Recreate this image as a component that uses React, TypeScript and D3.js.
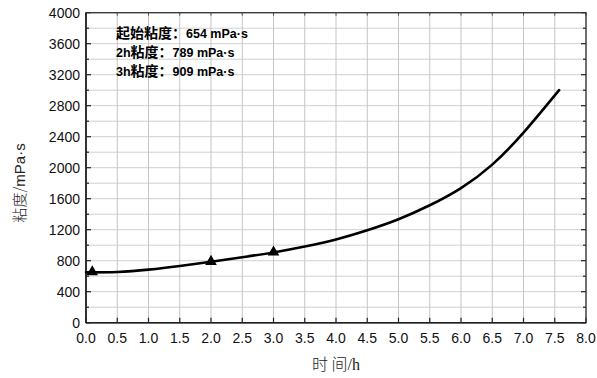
import React from "react";
import * as d3 from "d3";

const curveX = [0.0, 0.5, 1.0, 1.5, 2.0, 2.5, 3.0, 3.5, 4.0, 4.5, 5.0, 5.5, 6.0, 6.5, 7.0, 7.57];
const curveY = [650, 655, 685, 732, 787, 845, 907, 983, 1075, 1193, 1335, 1515, 1737, 2040, 2452, 3000];
const markX = [0.1, 2.0, 3.0];
const markY = [654, 789, 909];
const xTicks = [0, 0.5, 1, 1.5, 2, 2.5, 3, 3.5, 4, 4.5, 5, 5.5, 6, 6.5, 7, 7.5, 8];
const yTicks = [0, 400, 800, 1200, 1600, 2000, 2400, 2800, 3200, 3600, 4000];
const yGrid = d3.range(0, 4001, 200);
const noteLabels = ["起始粘度：", "2h粘度：", "3h粘度："];
const noteValues = ["654 mPa·s", "789 mPa·s", "909 mPa·s"];

export default function App() {
  const W = 597, H = 378;
  const x = d3.scaleLinear().domain([0, 8]).range([86, 586]);
  const y = d3.scaleLinear().domain([0, 4000]).range([322.7, 12.7]);
  const line = d3.line<number>().x((_, i) => x(curveX[i])).y((d) => y(d)).curve(d3.curveNatural);
  const tri = d3.symbol().type(d3.symbolTriangle).size(58)();
  const sans = "'Liberation Sans', Arial, sans-serif";
  const cjk = "'Noto Sans CJK SC', sans-serif";
  return (
    <svg width={W} height={H} style={{ position: "absolute", left: 0, top: 0, background: "#fff" }}>
      {yGrid.map((v) => (
        <line key={"gy" + v} x1={x(0)} x2={x(8)} y1={y(v)} y2={y(v)} stroke="#cfcfcf" strokeWidth={1} />
      ))}
      {xTicks.map((v) => (
        <line key={"gx" + v} x1={x(v)} x2={x(v)} y1={y(0)} y2={y(4000)} stroke="#c4c4c4" strokeWidth={1} />
      ))}
      {xTicks.map((v) => (
        <g key={"tx" + v}>
          <line x1={x(v)} x2={x(v)} y1={y(0)} y2={y(0) - 5} stroke="#222" strokeWidth={1.2} />
          <line x1={x(v)} x2={x(v)} y1={y(4000)} y2={y(4000) + 3} stroke="#555" strokeWidth={1} />
        </g>
      ))}
      {yGrid.map((v) => {
        const major = v % 400 === 0;
        return (
          <g key={"ty" + v}>
            <line x1={x(0)} x2={x(0) + (major ? 5 : 3)} y1={y(v)} y2={y(v)} stroke="#222" strokeWidth={1.2} />
            <line x1={x(8)} x2={x(8) - (major ? 5 : 3)} y1={y(v)} y2={y(v)} stroke="#222" strokeWidth={1.2} />
          </g>
        );
      })}
      <rect x={x(0)} y={y(4000)} width={x(8) - x(0)} height={y(0) - y(4000)} fill="none" stroke="#333" strokeWidth={1.3} />
      <line x1={x(0)} x2={x(8)} y1={y(0)} y2={y(0)} stroke="#222" strokeWidth={1.6} />
      <line x1={x(0)} x2={x(0)} y1={y(0)} y2={y(4000)} stroke="#222" strokeWidth={1.6} />
      {yTicks.map((v) => (
        <text key={"ly" + v} x={80} y={y(v)} dy="0.35em" textAnchor="end" fontFamily={sans} fontSize={14} fill="#111">
          {v}
        </text>
      ))}
      {xTicks.map((v) => (
        <text key={"lx" + v} x={x(v)} y={338} dy="0.35em" textAnchor="middle" fontFamily={sans} fontSize={14} fill="#111">
          {v.toFixed(1)}
        </text>
      ))}
      <path d={line(curveY) || ""} fill="none" stroke="#000" strokeWidth={2.6} strokeLinecap="round" />
      {markX.map((v, i) => (
        <path key={"m" + i} d={tri || ""} transform={`translate(${x(v)},${y(markY[i])})`} fill="#000" />
      ))}
      {noteLabels.map((t, i) => (
        <text key={"n" + i} x={116} y={38 + i * 19} fontSize={12.5} fontWeight="bold" fill="#000">
          <tspan fontFamily={sans}>{t.startsWith("起") ? "" : t.slice(0, 2)}</tspan>
          <tspan fontFamily={cjk} fontSize={14}>{t.startsWith("起") ? t : t.slice(2)}</tspan>
          <tspan fontFamily={sans}>{noteValues[i]}</tspan>
        </text>
      ))}
      <text
        transform={`translate(25,183) rotate(-90)`}
        textAnchor="middle"
        fontSize={15}
        fill="#222"
      >
        <tspan fontFamily={cjk} fontWeight={300}>粘度/</tspan>
        <tspan fontFamily={sans}>mPa·s</tspan>
      </text>
      <text x={336} y={370} textAnchor="middle" fontSize={16} fill="#222">
        <tspan fontFamily={cjk} fontWeight={300}>时 间</tspan>
        <tspan fontFamily="'Liberation Serif', serif">/h</tspan>
      </text>
    </svg>
  );
}
